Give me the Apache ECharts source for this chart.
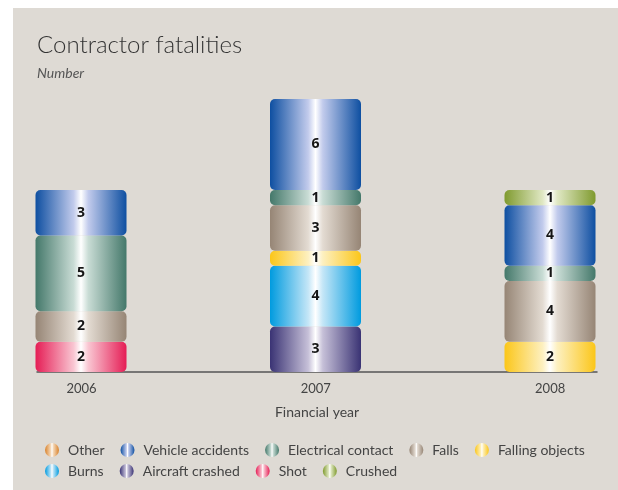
<!DOCTYPE html>
<html>
<head>
<meta charset="utf-8">
<script src="https://cdn.jsdelivr.net/npm/echarts@6/dist/echarts.min.js"></script>
<style>
  html, body { margin: 0; padding: 0; background: #fff; }
  #chart { width: 618px; height: 490px; }
</style>
</head>
<body>
<div id="chart"></div>
<script>
// years on the x axis
var years = ['2006', '2007', '2008'];

// one array per cause, values for 2006, 2007, 2008 ('-' = none)
var shot            = [2, '-', '-'];
var aircraftCrashed = ['-', 3, '-'];
var burns           = ['-', 4, '-'];
var fallingObjects  = ['-', 1, 2];
var falls           = [2, 3, 4];
var electrical      = [5, 1, 1];
var vehicle         = [3, 6, 4];
var crushed         = ['-', '-', 1];
var other           = ['-', '-', '-'];

// legend rows as printed
var legendRow1 = ['Other', 'Vehicle accidents', 'Electrical contact', 'Falls', 'Falling objects'];
var legendRow2 = ['Burns', 'Aircraft crashed', 'Shot', 'Crushed'];

document.addEventListener("DOMContentLoaded", function () {
  var myChart = echarts.init(document.getElementById('chart'));

  // dark edges, pale towards the middle, white stripe in the centre
  function tube(dark, pale) {
    return new echarts.graphic.LinearGradient(0, 0, 1, 0, [
      { offset: 0, color: dark },
      { offset: 0.42, color: pale },
      { offset: 0.5, color: '#ffffff' },
      { offset: 0.58, color: pale },
      { offset: 1, color: dark }
    ]);
  }

  // bottom-up stacking order
  var causes = [
    { name: 'Shot', data: shot, dark: '#e51d55', pale: '#f9c6d2' },
    { name: 'Aircraft crashed', data: aircraftCrashed, dark: '#3a3374', pale: '#c6c0d8' },
    { name: 'Burns', data: burns, dark: '#009bdf', pale: '#c4e6f7' },
    { name: 'Falling objects', data: fallingObjects, dark: '#fbc619', pale: '#fdf0c0' },
    { name: 'Falls', data: falls, dark: '#968575', pale: '#e3dbd2' },
    { name: 'Electrical contact', data: electrical, dark: '#44786a', pale: '#c9dcd5' },
    { name: 'Vehicle accidents', data: vehicle, dark: '#0e4fa1', pale: '#c2cbec' },
    { name: 'Crushed', data: crushed, dark: '#7f9a2e', pale: '#e0e8c4' },
    { name: 'Other', data: other, dark: '#d9822b', pale: '#f5dcbf' }
  ];

  var series = causes.map(function (c) {
    return {
      name: c.name,
      type: 'bar',
      stack: 'total',
      barWidth: 91,
      xAxisIndex: 0,
      yAxisIndex: 0,
      data: c.data,
      itemStyle: {
        color: tube(c.dark, c.pale),
        borderRadius: 5
      },
      label: {
        show: true,
        position: 'inside',
        color: '#151515',
        fontFamily: '"Open Sans"',
        fontWeight: 'bold',
        fontSize: 14
      }
    };
  });

  var legendBase = {
    left: 40,
    icon: 'circle',
    itemWidth: 14,
    itemHeight: 16,
    itemGap: 16,
    selectedMode: false,
    textStyle: {
      color: '#444',
      fontFamily: 'Lato',
      fontSize: 14,
      padding: [0, 0, 0, 4]
    }
  };

  var option = {
    animation: false,
    graphic: [{
      type: 'rect',
      left: 13,
      top: 8,
      z: -10,
      shape: { width: 605, height: 482 },
      style: { fill: '#dedad4' }
    }],
    title: {
      text: 'Contractor fatalities',
      subtext: 'Number',
      left: 32,
      top: 28,
      itemGap: 9,
      textStyle: {
        color: '#333',
        fontFamily: 'Lato',
        fontWeight: 300,
        fontSize: 24
      },
      subtextStyle: {
        color: '#555',
        fontFamily: 'Lato',
        fontStyle: 'italic',
        fontSize: 14
      }
    },
    legend: [
      Object.assign({}, legendBase, { top: 438, data: legendRow1 }),
      Object.assign({}, legendBase, { top: 459, data: legendRow2 })
    ],
    grid: [
      // bars: year centres sit at the grid edges
      { left: 81, right: 68, top: 99, bottom: 118 },
      // visible baseline, labels and axis name
      { left: 37, right: 21, top: 99, bottom: 118 }
    ],
    xAxis: [{
      type: 'category',
      gridIndex: 0,
      data: years,
      boundaryGap: false,
      show: false
    }, {
      type: 'value',
      gridIndex: 1,
      min: -0.19,
      max: 2.2,
      name: 'Financial year',
      nameLocation: 'middle',
      nameGap: 33,
      nameTextStyle: { color: '#444', fontFamily: 'Lato', fontSize: 14 },
      axisLine: { show: true, lineStyle: { color: '#555', width: 1.5 } },
      axisTick: { show: false },
      splitLine: { show: false },
      axisLabel: {
        customValues: [0, 1, 2],
        color: '#444',
        fontFamily: 'Lato',
        fontSize: 13,
        margin: 10,
        formatter: function (v) { return years[v]; }
      }
    }],
    yAxis: [{
      type: 'value',
      gridIndex: 0,
      min: 0,
      max: 18,
      show: false
    }, {
      type: 'value',
      gridIndex: 1,
      min: 0,
      max: 18,
      show: false
    }],
    series: series
  };

  myChart.setOption(option);
});
</script>
</body>
</html>
